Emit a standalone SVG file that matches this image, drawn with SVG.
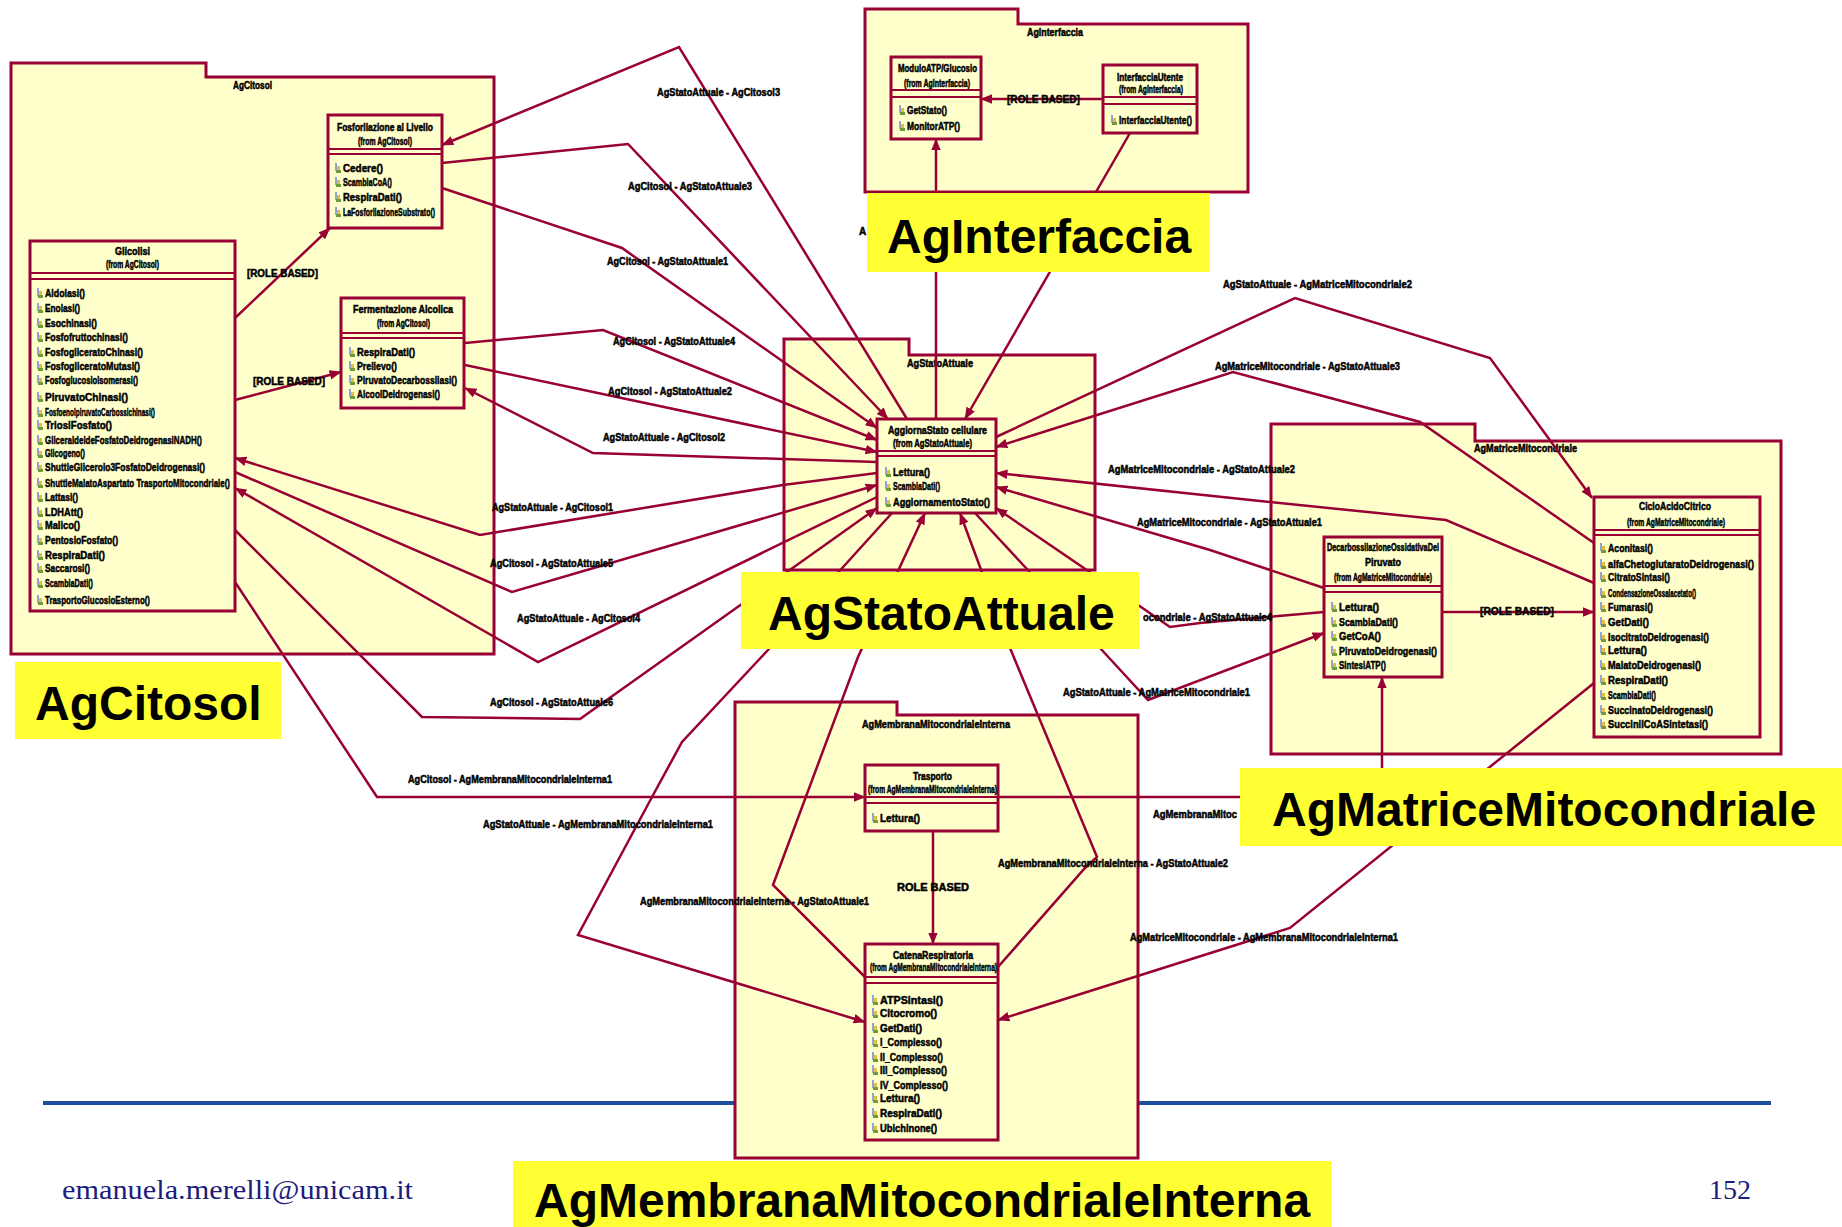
<svg xmlns="http://www.w3.org/2000/svg" width="1842" height="1227" viewBox="0 0 1842 1227">
<defs>
<style>
.pkg{fill:#ffffcc;stroke:#990033;stroke-width:3}
.box{fill:#ffffcc;stroke:#990033;stroke-width:3}
.sep{stroke:#990033;stroke-width:2}
.t{font-family:"Liberation Sans",Arial,Helvetica,sans-serif;font-weight:bold;font-size:10px;fill:#000;stroke:#000;stroke-width:0.5}
.m{font-size:11px}
.cn{fill:none;stroke:#990033;stroke-width:2.5;stroke-linejoin:miter;marker-end:url(#ah)}
.hl{fill:#ffff33}
.big{font-family:"Liberation Sans",Arial,Helvetica,sans-serif;font-weight:bold;font-size:48px;fill:#000}
.foot{font-family:"Liberation Serif","Times New Roman",serif;font-size:28px;fill:#1c1c7c}
</style>
<marker id="ah" viewBox="0 0 10 8" refX="9.5" refY="4" markerWidth="12" markerHeight="10" markerUnits="userSpaceOnUse" orient="auto">
<path d="M0,0 L10,4 L0,8 z" fill="#990033"/>
</marker>
<symbol id="op" viewBox="0 0 6 10" width="6" height="10">
<rect x="0" y="0" width="2" height="8" fill="#8fa4dc"/>
<rect x="2" y="3" width="3" height="5" fill="#e3bd3c"/>
<rect x="1" y="7" width="5" height="3" fill="#6d9c3e"/>
</symbol>
</defs>

<rect width="1842" height="1227" fill="#ffffff"/>

<!-- footer rule -->
<line x1="43" y1="1103" x2="1771" y2="1103" stroke="#1d4ea0" stroke-width="4"/>

<!-- packages -->
<g id="pkg-citosol">
<path class="pkg" d="M11,63H206V77H494V654H11Z"/>
<text class="t" x="233" y="89" textLength="39" lengthAdjust="spacingAndGlyphs">AgCitosol</text>
</g>
<g id="pkg-interfaccia">
<path class="pkg" d="M865,9H1018V24H1248V192H865Z"/>
<text class="t" x="1027" y="36" textLength="56" lengthAdjust="spacingAndGlyphs">AgInterfaccia</text>
</g>
<g id="pkg-stato">
<path class="pkg" d="M784,339H909V355H1095V570H784Z"/>
<text class="t" x="907" y="367" textLength="66" lengthAdjust="spacingAndGlyphs">AgStatoAttuale</text>
</g>
<g id="pkg-matrice">
<path class="pkg" d="M1271,424H1475V441H1781V754H1271Z"/>
<text class="t" x="1474" y="452" textLength="103" lengthAdjust="spacingAndGlyphs">AgMatriceMitocondriale</text>
</g>
<g id="pkg-membrana">
<path class="pkg" d="M735,702H897V715H1138V1158H735Z"/>
<text class="t" x="862" y="728" textLength="148" lengthAdjust="spacingAndGlyphs">AgMembranaMitocondrialeInterna</text>
</g>

<!-- classes -->
<g id="cls-glicolisi">
<rect class="box" x="30" y="241" width="205" height="370"/>
<text class="t" x="115" y="255" textLength="35" lengthAdjust="spacingAndGlyphs">Glicolisi</text>
<text class="t" x="106" y="268" textLength="53" lengthAdjust="spacingAndGlyphs">(from AgCitosol)</text>
<line class="sep" x1="30" y1="273" x2="235" y2="273"/>
<line class="sep" x1="30" y1="279" x2="235" y2="279"/>
<use href="#op" x="37" y="288"/><text class="t m" x="45" y="297" textLength="40" lengthAdjust="spacingAndGlyphs">Aldolasi()</text>
<use href="#op" x="37" y="303"/><text class="t m" x="45" y="312" textLength="35" lengthAdjust="spacingAndGlyphs">Enolasi()</text>
<use href="#op" x="37" y="318"/><text class="t m" x="45" y="327" textLength="52" lengthAdjust="spacingAndGlyphs">Esochinasi()</text>
<use href="#op" x="37" y="332"/><text class="t m" x="45" y="341" textLength="83" lengthAdjust="spacingAndGlyphs">Fosfofruttochinasi()</text>
<use href="#op" x="37" y="347"/><text class="t m" x="45" y="356" textLength="98" lengthAdjust="spacingAndGlyphs">FosfogliceratoChinasi()</text>
<use href="#op" x="37" y="361"/><text class="t m" x="45" y="370" textLength="95" lengthAdjust="spacingAndGlyphs">FosfogliceratoMutasi()</text>
<use href="#op" x="37" y="375"/><text class="t m" x="45" y="384" textLength="93" lengthAdjust="spacingAndGlyphs">FosfoglucosioIsomerasi()</text>
<use href="#op" x="37" y="392"/><text class="t m" x="45" y="401" textLength="83" lengthAdjust="spacingAndGlyphs">PiruvatoChinasi()</text>
<use href="#op" x="37" y="407"/><text class="t m" x="45" y="416" textLength="110" lengthAdjust="spacingAndGlyphs">FosfoenolpiruvatoCarbossichinasi()</text>
<use href="#op" x="37" y="420"/><text class="t m" x="45" y="429" textLength="67" lengthAdjust="spacingAndGlyphs">TriosiFosfato()</text>
<use href="#op" x="37" y="435"/><text class="t m" x="45" y="444" textLength="157" lengthAdjust="spacingAndGlyphs">GliceraldeideFosfatoDeidrogenasiNADH()</text>
<use href="#op" x="37" y="448"/><text class="t m" x="45" y="457" textLength="40" lengthAdjust="spacingAndGlyphs">Glicogeno()</text>
<use href="#op" x="37" y="462"/><text class="t m" x="45" y="471" textLength="160" lengthAdjust="spacingAndGlyphs">ShuttleGlicerolo3FosfatoDeidrogenasi()</text>
<use href="#op" x="37" y="478"/><text class="t m" x="45" y="487" textLength="185" lengthAdjust="spacingAndGlyphs">ShuttleMalatoAspartato TrasportoMitocondriale()</text>
<use href="#op" x="37" y="492"/><text class="t m" x="45" y="501" textLength="33" lengthAdjust="spacingAndGlyphs">Lattasi()</text>
<use href="#op" x="37" y="507"/><text class="t m" x="45" y="516" textLength="38" lengthAdjust="spacingAndGlyphs">LDHAtt()</text>
<use href="#op" x="37" y="520"/><text class="t m" x="45" y="529" textLength="35" lengthAdjust="spacingAndGlyphs">Malico()</text>
<use href="#op" x="37" y="535"/><text class="t m" x="45" y="544" textLength="73" lengthAdjust="spacingAndGlyphs">PentosioFosfato()</text>
<use href="#op" x="37" y="550"/><text class="t m" x="45" y="559" textLength="60" lengthAdjust="spacingAndGlyphs">RespiraDati()</text>
<use href="#op" x="37" y="563"/><text class="t m" x="45" y="572" textLength="45" lengthAdjust="spacingAndGlyphs">Saccarosi()</text>
<use href="#op" x="37" y="578"/><text class="t m" x="45" y="587" textLength="48" lengthAdjust="spacingAndGlyphs">ScambiaDati()</text>
<use href="#op" x="37" y="595"/><text class="t m" x="45" y="604" textLength="105" lengthAdjust="spacingAndGlyphs">TrasportoGlucosioEsterno()</text>
</g>

<g id="cls-fosforilazione">
<rect class="box" x="328" y="115" width="114" height="113"/>
<text class="t" x="337" y="131" textLength="96" lengthAdjust="spacingAndGlyphs">Fosforilazione al Livello</text>
<text class="t" x="358" y="145" textLength="54" lengthAdjust="spacingAndGlyphs">(from AgCitosol)</text>
<line class="sep" x1="328" y1="149" x2="442" y2="149"/>
<line class="sep" x1="328" y1="154" x2="442" y2="154"/>
<use href="#op" x="335" y="163"/><text class="t m" x="343" y="172" textLength="40" lengthAdjust="spacingAndGlyphs">Cedere()</text>
<use href="#op" x="335" y="177"/><text class="t m" x="343" y="186" textLength="49" lengthAdjust="spacingAndGlyphs">ScambiaCoA()</text>
<use href="#op" x="335" y="192"/><text class="t m" x="343" y="201" textLength="59" lengthAdjust="spacingAndGlyphs">RespiraDati()</text>
<use href="#op" x="335" y="207"/><text class="t m" x="343" y="216" textLength="92" lengthAdjust="spacingAndGlyphs">LaFosforilazioneSubstrato()</text>
</g>

<g id="cls-fermentazione">
<rect class="box" x="341" y="298" width="123" height="110"/>
<text class="t" x="353" y="313" textLength="100" lengthAdjust="spacingAndGlyphs">Fermentazione Alcolica</text>
<text class="t" x="377" y="327" textLength="53" lengthAdjust="spacingAndGlyphs">(from AgCitosol)</text>
<line class="sep" x1="341" y1="333" x2="464" y2="333"/>
<line class="sep" x1="341" y1="338" x2="464" y2="338"/>
<use href="#op" x="349" y="347"/><text class="t m" x="357" y="356" textLength="58" lengthAdjust="spacingAndGlyphs">RespiraDati()</text>
<use href="#op" x="349" y="361"/><text class="t m" x="357" y="370" textLength="40" lengthAdjust="spacingAndGlyphs">Prelievo()</text>
<use href="#op" x="349" y="375"/><text class="t m" x="357" y="384" textLength="100" lengthAdjust="spacingAndGlyphs">PiruvatoDecarbossilasi()</text>
<use href="#op" x="349" y="389"/><text class="t m" x="357" y="398" textLength="83" lengthAdjust="spacingAndGlyphs">AlcoolDeidrogenasi()</text>
</g>

<g id="cls-statocellula">
<rect class="box" x="877" y="419" width="119" height="94"/>
<text class="t" x="888" y="434" textLength="99" lengthAdjust="spacingAndGlyphs">AggiornaStato cellulare</text>
<text class="t" x="893" y="447" textLength="79" lengthAdjust="spacingAndGlyphs">(from AgStatoAttuale)</text>
<line class="sep" x1="877" y1="451" x2="996" y2="451"/>
<line class="sep" x1="877" y1="456" x2="996" y2="456"/>
<use href="#op" x="885" y="467"/><text class="t m" x="893" y="476" textLength="37" lengthAdjust="spacingAndGlyphs">Lettura()</text>
<use href="#op" x="885" y="481"/><text class="t m" x="893" y="490" textLength="47" lengthAdjust="spacingAndGlyphs">ScambiaDati()</text>
<use href="#op" x="885" y="497"/><text class="t m" x="893" y="506" textLength="97" lengthAdjust="spacingAndGlyphs">AggiornamentoStato()</text>
</g>

<g id="cls-moduloatp">
<rect class="box" x="891" y="57" width="90" height="82"/>
<text class="t" x="898" y="72" textLength="79" lengthAdjust="spacingAndGlyphs">ModuloATP/Glucosio</text>
<text class="t" x="904" y="87" textLength="66" lengthAdjust="spacingAndGlyphs">(from AgInterfaccia)</text>
<line class="sep" x1="891" y1="90" x2="981" y2="90"/>
<line class="sep" x1="891" y1="97" x2="981" y2="97"/>
<use href="#op" x="899" y="105"/><text class="t m" x="907" y="114" textLength="40" lengthAdjust="spacingAndGlyphs">GetStato()</text>
<use href="#op" x="899" y="121"/><text class="t m" x="907" y="130" textLength="53" lengthAdjust="spacingAndGlyphs">MonitorATP()</text>
</g>

<g id="cls-interfacciautente">
<rect class="box" x="1103" y="65" width="94" height="68"/>
<text class="t" x="1117" y="81" textLength="66" lengthAdjust="spacingAndGlyphs">InterfacciaUtente</text>
<text class="t" x="1119" y="93" textLength="64" lengthAdjust="spacingAndGlyphs">(from AgInterfaccia)</text>
<line class="sep" x1="1103" y1="97" x2="1197" y2="97"/>
<line class="sep" x1="1103" y1="104" x2="1197" y2="104"/>
<use href="#op" x="1111" y="115"/><text class="t m" x="1119" y="124" textLength="73" lengthAdjust="spacingAndGlyphs">InterfacciaUtente()</text>
</g>

<g id="cls-decarbossilazione">
<rect class="box" x="1324" y="537" width="118" height="140"/>
<text class="t" x="1327" y="551" textLength="112" lengthAdjust="spacingAndGlyphs">DecarbossilazioneOssidativaDel</text>
<text class="t" x="1365" y="566" textLength="36" lengthAdjust="spacingAndGlyphs">Piruvato</text>
<text class="t" x="1334" y="581" textLength="98" lengthAdjust="spacingAndGlyphs">(from AgMatriceMitocondriale)</text>
<line class="sep" x1="1324" y1="586" x2="1442" y2="586"/>
<line class="sep" x1="1324" y1="592" x2="1442" y2="592"/>
<use href="#op" x="1331" y="602"/><text class="t m" x="1339" y="611" textLength="40" lengthAdjust="spacingAndGlyphs">Lettura()</text>
<use href="#op" x="1331" y="617"/><text class="t m" x="1339" y="626" textLength="59" lengthAdjust="spacingAndGlyphs">ScambiaDati()</text>
<use href="#op" x="1331" y="631"/><text class="t m" x="1339" y="640" textLength="42" lengthAdjust="spacingAndGlyphs">GetCoA()</text>
<use href="#op" x="1331" y="646"/><text class="t m" x="1339" y="655" textLength="98" lengthAdjust="spacingAndGlyphs">PiruvatoDeidrogenasi()</text>
<use href="#op" x="1331" y="660"/><text class="t m" x="1339" y="669" textLength="47" lengthAdjust="spacingAndGlyphs">SintesiATP()</text>
</g>

<g id="cls-ciclokrebs">
<rect class="box" x="1594" y="497" width="166" height="240"/>
<text class="t" x="1639" y="510" textLength="72" lengthAdjust="spacingAndGlyphs">CicloAcidoCitrico</text>
<text class="t" x="1627" y="526" textLength="98" lengthAdjust="spacingAndGlyphs">(from AgMatriceMitocondriale)</text>
<line class="sep" x1="1594" y1="530" x2="1760" y2="530"/>
<line class="sep" x1="1594" y1="535" x2="1760" y2="535"/>
<use href="#op" x="1600" y="543"/><text class="t m" x="1608" y="552" textLength="45" lengthAdjust="spacingAndGlyphs">Aconitasi()</text>
<use href="#op" x="1600" y="559"/><text class="t m" x="1608" y="568" textLength="146" lengthAdjust="spacingAndGlyphs">alfaChetoglutaratoDeidrogenasi()</text>
<use href="#op" x="1600" y="572"/><text class="t m" x="1608" y="581" textLength="62" lengthAdjust="spacingAndGlyphs">CitratoSintasi()</text>
<use href="#op" x="1600" y="588"/><text class="t m" x="1608" y="597" textLength="88" lengthAdjust="spacingAndGlyphs">CondensazioneOssalacetato()</text>
<use href="#op" x="1600" y="602"/><text class="t m" x="1608" y="611" textLength="45" lengthAdjust="spacingAndGlyphs">Fumarasi()</text>
<use href="#op" x="1600" y="617"/><text class="t m" x="1608" y="626" textLength="41" lengthAdjust="spacingAndGlyphs">GetDati()</text>
<use href="#op" x="1600" y="632"/><text class="t m" x="1608" y="641" textLength="101" lengthAdjust="spacingAndGlyphs">IsocitratoDeidrogenasi()</text>
<use href="#op" x="1600" y="645"/><text class="t m" x="1608" y="654" textLength="39" lengthAdjust="spacingAndGlyphs">Lettura()</text>
<use href="#op" x="1600" y="660"/><text class="t m" x="1608" y="669" textLength="93" lengthAdjust="spacingAndGlyphs">MalatoDeidrogenasi()</text>
<use href="#op" x="1600" y="675"/><text class="t m" x="1608" y="684" textLength="60" lengthAdjust="spacingAndGlyphs">RespiraDati()</text>
<use href="#op" x="1600" y="690"/><text class="t m" x="1608" y="699" textLength="48" lengthAdjust="spacingAndGlyphs">ScambiaDati()</text>
<use href="#op" x="1600" y="705"/><text class="t m" x="1608" y="714" textLength="105" lengthAdjust="spacingAndGlyphs">SuccinatoDeidrogenasi()</text>
<use href="#op" x="1600" y="719"/><text class="t m" x="1608" y="728" textLength="100" lengthAdjust="spacingAndGlyphs">SuccinilCoASintetasi()</text>
</g>

<g id="cls-trasporto">
<rect class="box" x="865" y="765" width="133" height="66"/>
<text class="t" x="913" y="780" textLength="39" lengthAdjust="spacingAndGlyphs">Trasporto</text>
<text class="t" x="868" y="793" textLength="129" lengthAdjust="spacingAndGlyphs">(from AgMembranaMitocondrialeInterna)</text>
<line class="sep" x1="865" y1="797" x2="998" y2="797"/>
<line class="sep" x1="865" y1="803" x2="998" y2="803"/>
<use href="#op" x="872" y="813"/><text class="t m" x="880" y="822" textLength="40" lengthAdjust="spacingAndGlyphs">Lettura()</text>
</g>

<g id="cls-catena">
<rect class="box" x="865" y="944" width="133" height="196"/>
<text class="t" x="893" y="959" textLength="80" lengthAdjust="spacingAndGlyphs">CatenaRespiratoria</text>
<text class="t" x="870" y="971" textLength="127" lengthAdjust="spacingAndGlyphs">(from AgMembranaMitocondrialeInterna)</text>
<line class="sep" x1="865" y1="977" x2="998" y2="977"/>
<line class="sep" x1="865" y1="983" x2="998" y2="983"/>
<use href="#op" x="872" y="995"/><text class="t m" x="880" y="1004" textLength="63" lengthAdjust="spacingAndGlyphs">ATPSintasi()</text>
<use href="#op" x="872" y="1008"/><text class="t m" x="880" y="1017" textLength="57" lengthAdjust="spacingAndGlyphs">Citocromo()</text>
<use href="#op" x="872" y="1023"/><text class="t m" x="880" y="1032" textLength="42" lengthAdjust="spacingAndGlyphs">GetDati()</text>
<use href="#op" x="872" y="1037"/><text class="t m" x="880" y="1046" textLength="62" lengthAdjust="spacingAndGlyphs">I_Complesso()</text>
<use href="#op" x="872" y="1052"/><text class="t m" x="880" y="1061" textLength="63" lengthAdjust="spacingAndGlyphs">II_Complesso()</text>
<use href="#op" x="872" y="1065"/><text class="t m" x="880" y="1074" textLength="67" lengthAdjust="spacingAndGlyphs">III_Complesso()</text>
<use href="#op" x="872" y="1080"/><text class="t m" x="880" y="1089" textLength="68" lengthAdjust="spacingAndGlyphs">IV_Complesso()</text>
<use href="#op" x="872" y="1093"/><text class="t m" x="880" y="1102" textLength="40" lengthAdjust="spacingAndGlyphs">Lettura()</text>
<use href="#op" x="872" y="1108"/><text class="t m" x="880" y="1117" textLength="62" lengthAdjust="spacingAndGlyphs">RespiraDati()</text>
<use href="#op" x="872" y="1123"/><text class="t m" x="880" y="1132" textLength="57" lengthAdjust="spacingAndGlyphs">Ubichinone()</text>
</g>

<!-- connectors -->
<g id="connectors">
<polyline class="cn" points="907,419 679,47 442,145"/>
<polyline class="cn" points="442,163 628,144 888,419"/>
<polyline class="cn" points="442,188 622,248 877,428"/>
<polyline class="cn" points="465,343 603,330 877,440"/>
<polyline class="cn" points="465,365 877,452"/>
<polyline class="cn" points="877,462 783,459 593,453 465,388"/>
<polyline class="cn" points="877,473 783,485 480,535 235,458"/>
<polyline class="cn" points="235,472 512,592 877,485"/>
<polyline class="cn" points="877,497 538,662 235,488"/>
<polyline class="cn" points="235,530 422,717 580,719 877,508"/>
<polyline class="cn" points="235,582 377,797 865,797"/>
<polyline class="cn" points="892,513 768,650 682,742 652,797 578,935 865,1022"/>
<polyline class="cn" points="865,977 773,885 858,657 925,513"/>
<polyline class="cn" points="998,967 1085,868 1097,857 1010,648 960,513"/>
<polyline class="cn" points="1324,612 1200,623 1170,627 1141,607 996,508"/>
<polyline class="cn" points="975,513 1100,648 1148,700 1324,633"/>
<polyline class="cn" points="1324,588 1210,550 996,487"/>
<polyline class="cn" points="1594,583 1446,520 1260,501 996,473"/>
<polyline class="cn" points="996,437 1295,298 1490,358 1592,498"/>
<polyline class="cn" points="1594,543 1420,422 1233,372 996,447"/>
<polyline class="cn" points="936,419 936,139"/>
<polyline class="cn" points="1130,133 965,419"/>
<polyline class="cn" points="1103,99 981,99"/>
<polyline class="cn" points="235,318 330,228"/>
<polyline class="cn" points="235,400 341,372"/>
<polyline class="cn" points="1442,612 1594,612"/>
<polyline class="cn" points="998,797 1382,797 1382,677"/>
<polyline class="cn" points="1594,683 1290,928 998,1020"/>
<polyline class="cn" points="933,831 933,944"/>
</g>

<!-- connector labels -->
<g id="connector-labels">
<text class="t" x="657" y="96" textLength="123" lengthAdjust="spacingAndGlyphs">AgStatoAttuale - AgCitosol3</text>
<text class="t" x="628" y="190" textLength="124" lengthAdjust="spacingAndGlyphs">AgCitosol - AgStatoAttuale3</text>
<text class="t" x="607" y="265" textLength="121" lengthAdjust="spacingAndGlyphs">AgCitosol - AgStatoAttuale1</text>
<text class="t" x="613" y="345" textLength="122" lengthAdjust="spacingAndGlyphs">AgCitosol - AgStatoAttuale4</text>
<text class="t" x="608" y="395" textLength="124" lengthAdjust="spacingAndGlyphs">AgCitosol - AgStatoAttuale2</text>
<text class="t" x="603" y="441" textLength="122" lengthAdjust="spacingAndGlyphs">AgStatoAttuale - AgCitosol2</text>
<text class="t" x="492" y="511" textLength="121" lengthAdjust="spacingAndGlyphs">AgStatoAttuale - AgCitosol1</text>
<text class="t" x="490" y="567" textLength="123" lengthAdjust="spacingAndGlyphs">AgCitosol - AgStatoAttuale5</text>
<text class="t" x="517" y="622" textLength="123" lengthAdjust="spacingAndGlyphs">AgStatoAttuale - AgCitosol4</text>
<text class="t" x="490" y="706" textLength="123" lengthAdjust="spacingAndGlyphs">AgCitosol - AgStatoAttuale6</text>
<text class="t" x="408" y="783" textLength="204" lengthAdjust="spacingAndGlyphs">AgCitosol - AgMembranaMitocondrialeInterna1</text>
<text class="t" x="483" y="828" textLength="230" lengthAdjust="spacingAndGlyphs">AgStatoAttuale - AgMembranaMitocondrialeInterna1</text>
<text class="t" x="640" y="905" textLength="229" lengthAdjust="spacingAndGlyphs">AgMembranaMitocondrialeInterna - AgStatoAttuale1</text>
<text class="t" x="998" y="867" textLength="230" lengthAdjust="spacingAndGlyphs">AgMembranaMitocondrialeInterna - AgStatoAttuale2</text>
<text class="t" x="1143" y="621" textLength="129" lengthAdjust="spacingAndGlyphs">ocondriale - AgStatoAttuale4</text>
<text class="t" x="1063" y="696" textLength="187" lengthAdjust="spacingAndGlyphs">AgStatoAttuale - AgMatriceMitocondriale1</text>
<text class="t" x="1137" y="526" textLength="185" lengthAdjust="spacingAndGlyphs">AgMatriceMitocondriale - AgStatoAttuale1</text>
<text class="t" x="1108" y="473" textLength="187" lengthAdjust="spacingAndGlyphs">AgMatriceMitocondriale - AgStatoAttuale2</text>
<text class="t" x="1223" y="288" textLength="189" lengthAdjust="spacingAndGlyphs">AgStatoAttuale - AgMatriceMitocondriale2</text>
<text class="t" x="1215" y="370" textLength="185" lengthAdjust="spacingAndGlyphs">AgMatriceMitocondriale - AgStatoAttuale3</text>
<text class="t" x="1153" y="818" textLength="84" lengthAdjust="spacingAndGlyphs">AgMembranaMitoc</text>
<text class="t" x="1130" y="941" textLength="268" lengthAdjust="spacingAndGlyphs">AgMatriceMitocondriale - AgMembranaMitocondrialeInterna1</text>
<text class="t" x="859" y="235">A</text>
<text class="t" x="247" y="277" textLength="71" lengthAdjust="spacingAndGlyphs">[ROLE BASED]</text>
<text class="t" x="253" y="385" textLength="72" lengthAdjust="spacingAndGlyphs">[ROLE BASED]</text>
<text class="t" x="1007" y="103" textLength="73" lengthAdjust="spacingAndGlyphs">[ROLE BASED]</text>
<text class="t" x="1480" y="615" textLength="74" lengthAdjust="spacingAndGlyphs">[ROLE BASED]</text>
<text class="t" x="897" y="891" textLength="72" lengthAdjust="spacingAndGlyphs">ROLE BASED</text>
</g>

<!-- highlighted agent names -->
<g id="tag-citosol"><rect class="hl" x="15" y="662" width="266" height="77"/><text class="big" x="35" y="720">AgCitosol</text></g>
<g id="tag-interfaccia"><rect class="hl" x="867" y="193" width="343" height="79"/><text class="big" x="887" y="253">AgInterfaccia</text></g>
<g id="tag-stato"><rect class="hl" x="741" y="572" width="398" height="77"/><text class="big" x="768" y="630">AgStatoAttuale</text></g>
<g id="tag-matrice"><rect class="hl" x="1240" y="768" width="602" height="78"/><text class="big" x="1272" y="826">AgMatriceMitocondriale</text></g>
<g id="tag-membrana"><rect class="hl" x="513" y="1161" width="818" height="66"/><text class="big" x="534" y="1217">AgMembranaMitocondrialeInterna</text></g>

<!-- footer -->
<text class="foot" x="62" y="1199" textLength="351" lengthAdjust="spacingAndGlyphs">emanuela.merelli@unicam.it</text>
<text class="foot" x="1709" y="1199">152</text>
</svg>
